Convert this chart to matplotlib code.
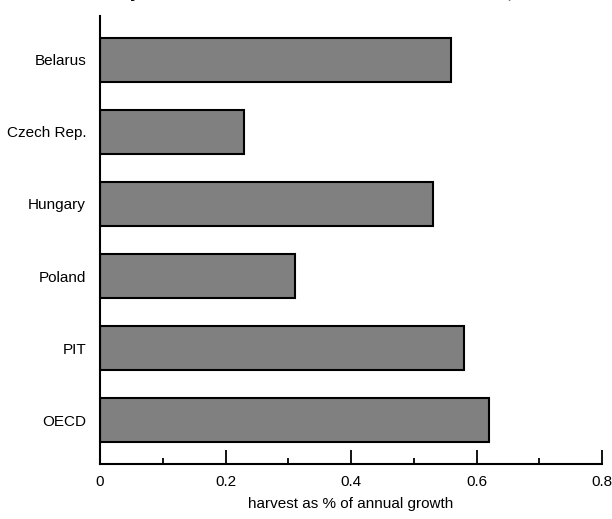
import matplotlib
matplotlib.use("Agg")
import matplotlib.pyplot as plt
from matplotlib.ticker import MultipleLocator

categories = ["OECD", "PIT", "Poland", "Hungary", "Czech Rep.", "Belarus"]
values = [0.62, 0.58, 0.31, 0.53, 0.23, 0.56]
xticks = [0, 0.2, 0.4, 0.6, 0.8]
xticklabels = ["0", "0.2", "0.4", "0.6", "0.8"]
xlabel = "harvest as % of annual growth"
title = "Intensity of forest resource use in selected countries, 1990s"

plt.rcParams['font.family'] = ['Liberation Sans Narrow', 'Liberation Sans', 'DejaVu Sans']

fig = plt.figure(figsize=(6.12, 5.19), dpi=100)
ax = fig.add_axes([100/612, 1-464/519, 502/612, 448/519])

y = list(range(len(categories)))
ax.barh(y, values, height=0.62, color="#808080", edgecolor="black", linewidth=1.5)
ax.set_ylim(-0.61, 5.61)
ax.set_xlim(0, 0.8)
ax.set_yticks(y)
ax.set_yticklabels(categories, fontsize=11)
ax.tick_params(axis='y', length=0, pad=10)
ax.set_xticks(xticks)
ax.set_xticklabels(xticklabels, fontsize=11)
ax.xaxis.set_minor_locator(MultipleLocator(0.1))
ax.tick_params(axis='x', which='major', direction='in', length=10, width=1.3, pad=8)
ax.tick_params(axis='x', which='minor', direction='in', length=4, width=1.3)
ax.set_xlabel(xlabel, fontsize=11, labelpad=6)
for s in ["top", "right"]:
    ax.spines[s].set_visible(False)
for s in ["left", "bottom"]:
    ax.spines[s].set_linewidth(1.5)

fig.text(68/612, 1 + 2/519, title, fontsize=12.6, fontweight='bold', family=['Liberation Sans', 'DejaVu Sans'], va='baseline', ha='left')

fig.savefig("out.png", dpi=100)
